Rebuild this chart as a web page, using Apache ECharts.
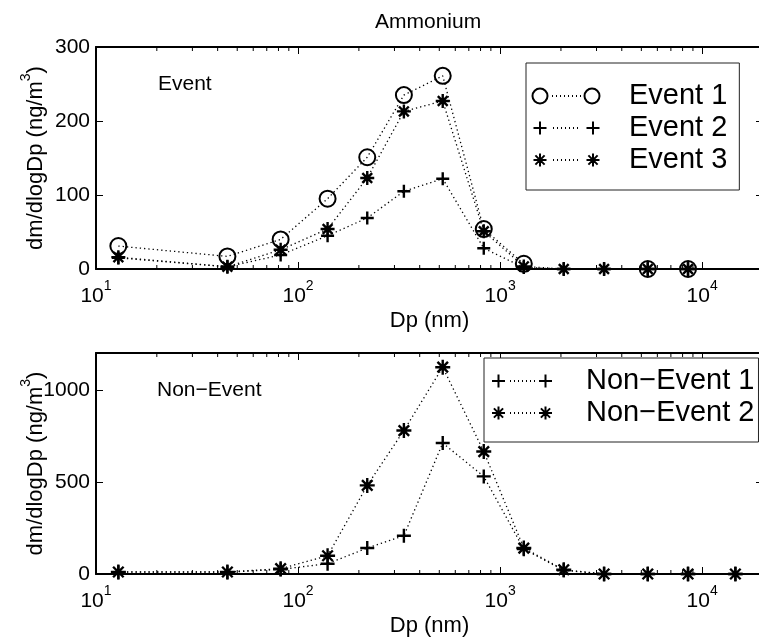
<!DOCTYPE html>
<html lang="en">
<head>
<meta charset="UTF-8">
<title>Ammonium</title>
<script src="https://cdn.jsdelivr.net/npm/echarts@6/dist/echarts.min.js"></script>
<style>
    html, body { margin: 0; padding: 0; background: #fff; }
    #main { width: 759px; height: 637px; }
</style>
</head>
<body>
<div id="main"></div>
<script>
    // stage diameters (nm)
    var dp = [12.9, 44.7, 82, 140, 220, 334, 520, 830, 1310, 2065, 3270, 5380, 8510, 14600];

    // Event panel (ng/m3), missing circles left as null
    var event1 = [31, 17, 40, 95, 151, 235, 261, 54, 7, null, null, 0, 0];
    var event2 = [15, 3, 19, 45, 69, 105, 122, 28, 2, 0, 0, 0, 0];
    var event3 = [16, 3, 26, 54, 123, 213, 227, 51, 3.5, 0, 0, 0, 0];

    // Non-Event panel
    var nonEvent1 = [10, 10, 25, 56, 141, 208, 711, 530, 135, 20, 0, 0, 0, 0];
    var nonEvent2 = [11, 11, 29, 99, 481, 779, 1123, 665, 141, 23, 0, 0, 0, 0];

    // axes
    var xRange = [10, 20000];
    var xMinorTicks = [20, 30, 40, 50, 60, 70, 80, 90,
        200, 300, 400, 500, 600, 700, 800, 900,
        2000, 3000, 4000, 5000, 6000, 7000, 8000, 9000];
    var topYTicks = [0, 100, 200, 300];
    var bottomYTicks = [0, 500, 1000];
    var bottomYMax = 1200;

    var font = 'Liberation Sans, Arial, Helvetica, sans-serif';

    var plusPath = 'path://M0,-1L0,1M-1,0L1,0';
    var starPath = 'path://M0,-1L0,1M-1,0L1,0M-0.7,-0.7L0.7,0.7M-0.7,0.7L0.7,-0.7';

    // legend icons: marker ..... marker
    var iconCircleTop = 'path://M0,0M0.5,9A7.5,7.5,0,1,1,15.5,9A7.5,7.5,0,1,1,0.5,9Z' +
        'M52.5,9A7.5,7.5,0,1,1,67.5,9A7.5,7.5,0,1,1,52.5,9Z' +
        'M20,9L21,9M24,9L25,9M28,9L29,9M32,9L33,9M36,9L37,9M40,9L41,9M44,9L45,9M48,9L49,9M92,18';
    var iconPlusTop = 'path://M0,0M8,2.5L8,15.5M1.5,9L14.5,9M61,2.5L61,15.5M54.5,9L67.5,9' +
        'M21,9L22,9M25,9L26,9M29,9L30,9M33,9L34,9M37,9L38,9M41,9L42,9M45,9L46,9M92,18';
    var iconStarTop = 'path://M0,0M8,2.5L8,15.5M1.5,9L14.5,9M3.4,4.4L12.6,13.6M3.4,13.6L12.6,4.4' +
        'M61,2.5L61,15.5M54.5,9L67.5,9M56.4,4.4L65.6,13.6M56.4,13.6L65.6,4.4' +
        'M21,9L22,9M25,9L26,9M29,9L30,9M33,9L34,9M37,9L38,9M41,9L42,9M45,9L46,9M92,18';
    var iconPlusBot = 'path://M0,0M7.5,2.5L7.5,15.5M1,9L14,9M54.5,2.5L54.5,15.5M48,9L61,9' +
        'M19,9L20,9M23,9L24,9M27,9L28,9M31,9L32,9M35,9L36,9M39,9L40,9M43,9L44,9M90,18';
    var iconStarBot = 'path://M0,0M7.5,2.5L7.5,15.5M1,9L14,9M2.9,4.4L12.1,13.6M2.9,13.6L12.1,4.4' +
        'M54.5,2.5L54.5,15.5M48,9L61,9M49.9,4.4L59.1,13.6M49.9,13.6L59.1,4.4' +
        'M19,9L20,9M23,9L24,9M27,9L28,9M31,9L32,9M35,9L36,9M39,9L40,9M43,9L44,9M90,18';

    function pairs(xs, ys) {
        var out = [];
        for (var i = 0; i < ys.length; i++) {
            out.push([xs[i], ys[i] === null ? '-' : ys[i]]);
        }
        return out;
    }

    function logLabel(v) {
        var e = Math.log(v) / Math.LN10;
        if (Math.abs(e - Math.round(e)) > 1e-6) {
            return '';
        }
        return '10{sup|' + Math.round(e) + '}';
    }

    function xAxisBottom(g) {
        return {
            type: 'log', logBase: 10, gridIndex: g, position: 'bottom',
            min: xRange[0], max: xRange[1],
            axisLine: { show: true, onZero: false, lineStyle: { color: '#000', width: 2 } },
            axisTick: { show: true, inside: true, length: 7, lineStyle: { color: '#000', width: 1 } },
            axisLabel: {
                show: true, margin: 10, color: '#000', fontSize: 21, lineHeight: 34, fontFamily: font,
                formatter: logLabel,
                rich: { sup: { fontSize: 14, lineHeight: 14, verticalAlign: 'top', color: '#000', fontFamily: font } }
            },
            splitLine: { show: false },
            name: 'Dp (nm)', nameLocation: 'middle', nameGap: 41, nameMoveOverlap: false,
            nameTextStyle: { color: '#000', fontSize: 22, fontFamily: font }
        };
    }

    function xAxisTop(g) {
        return {
            type: 'log', logBase: 10, gridIndex: g, position: 'top',
            min: xRange[0], max: xRange[1],
            axisLine: { show: true, onZero: false, lineStyle: { color: '#000', width: 2 } },
            axisTick: { show: true, inside: true, length: 7, lineStyle: { color: '#000', width: 1 } },
            axisLabel: { show: false },
            splitLine: { show: false }
        };
    }

    function yAxisLeft(g, ticks, max) {
        return {
            type: 'value', gridIndex: g, position: 'left',
            min: ticks[0], max: max, interval: ticks[1] - ticks[0],
            axisLine: { show: true, onZero: false, lineStyle: { color: '#000', width: 2 } },
            axisTick: { show: true, inside: true, length: 7, lineStyle: { color: '#000', width: 1 } },
            axisLabel: {
                show: true, margin: 6, color: '#000', fontSize: 21, fontFamily: font,
                formatter: function (v) { return ticks.indexOf(v) >= 0 ? String(v) : ''; }
            },
            splitLine: { show: false },
            name: 'dm/dlogDp (ng/m{sup|3})', nameLocation: 'middle', nameGap: 43, nameMoveOverlap: false,
            nameTextStyle: {
                color: '#000', fontSize: 22, lineHeight: 34, fontFamily: font,
                rich: { sup: { fontSize: 14, lineHeight: 14, verticalAlign: 'top', color: '#000', fontFamily: font } }
            }
        };
    }

    function yAxisRight(g, ticks, max) {
        return {
            type: 'value', gridIndex: g, position: 'right',
            min: ticks[0], max: max, interval: ticks[1] - ticks[0],
            axisLine: { show: true, onZero: false, lineStyle: { color: '#000', width: 2 } },
            axisTick: { show: true, inside: true, length: 7, lineStyle: { color: '#000', width: 1 } },
            axisLabel: { show: false },
            splitLine: { show: false }
        };
    }

    function lineSeries(name, ys, symbol, size, axisIndex) {
        var isCircle = symbol === 'circle';
        return {
            name: name, type: 'line',
            xAxisIndex: axisIndex, yAxisIndex: axisIndex,
            data: pairs(dp, ys),
            symbol: symbol, symbolSize: size, showSymbol: true, clip: false,
            lineStyle: { color: '#000', width: 1.3, type: [1.3, 3] },
            itemStyle: { color: isCircle ? 'transparent' : '#000', borderColor: '#000', borderWidth: isCircle ? 2 : 2.4 },
            emphasis: { disabled: true }
        };
    }

    // small log ticks along the bottom and top frame
    function minorTickSeries(axisIndex, yTop) {
        return {
            type: 'custom', xAxisIndex: axisIndex, yAxisIndex: axisIndex, silent: true, clip: false,
            data: xMinorTicks.map(function (v) { return [v, 0]; }),
            renderItem: function (params, api) {
                var b = api.coord([api.value(0), 0]);
                var t = api.coord([api.value(0), yTop]);
                var st = { stroke: '#000', lineWidth: 1 };
                return {
                    type: 'group',
                    children: [
                        { type: 'line', shape: { x1: b[0], y1: b[1], x2: b[0], y2: b[1] - 4 }, style: st },
                        { type: 'line', shape: { x1: t[0], y1: t[1], x2: t[0], y2: t[1] + 4 }, style: st }
                    ]
                };
            }
        };
    }

    var legendBase = {
        orient: 'vertical', selectedMode: false,
        itemGap: 0, itemHeight: 18,
        borderColor: '#222', borderWidth: 1, backgroundColor: '#fff',
        itemStyle: { color: 'transparent', borderColor: '#000', borderWidth: 2 },
        textStyle: { color: '#000', fontSize: 29, lineHeight: 32, fontFamily: font }
    };

    var option = {
        animation: false,
        backgroundColor: '#fff',
        title: [
            { text: 'Ammonium', left: 375, top: 12, padding: 0,
              textStyle: { color: '#000', fontSize: 21, fontWeight: 'normal', fontFamily: font } },
            { text: 'Event', left: 158, top: 74, padding: 0,
              textStyle: { color: '#000', fontSize: 21, fontWeight: 'normal', fontFamily: font } },
            { text: 'Non\u2212Event', left: 157, top: 380, padding: 0,
              textStyle: { color: '#000', fontSize: 21, fontWeight: 'normal', fontFamily: font } }
        ],
        legend: [
            Object.assign({}, legendBase, {
                left: 526, top: 63, padding: [17, 12, 14, 5], itemWidth: 92,
                data: [
                    { name: 'Event 1', icon: iconCircleTop },
                    { name: 'Event 2', icon: iconPlusTop },
                    { name: 'Event 3', icon: iconStarTop }
                ]
            }),
            Object.assign({}, legendBase, {
                left: 484, top: 358, padding: [7, 4, 13, 6], itemWidth: 90,
                data: [
                    { name: 'Non\u2212Event 1', icon: iconPlusBot },
                    { name: 'Non\u2212Event 2', icon: iconStarBot }
                ]
            })
        ],
        grid: [
            { left: 96, top: 47, width: 667, height: 222, outerBoundsMode: 'none', containLabel: false },
            { left: 96, top: 353, width: 667, height: 221, outerBoundsMode: 'none', containLabel: false }
        ],
        xAxis: [xAxisBottom(0), xAxisTop(0), xAxisBottom(1), xAxisTop(1)],
        yAxis: [
            yAxisLeft(0, topYTicks, topYTicks[topYTicks.length - 1]),
            yAxisRight(0, topYTicks, topYTicks[topYTicks.length - 1]),
            yAxisLeft(1, bottomYTicks, bottomYMax),
            yAxisRight(1, bottomYTicks, bottomYMax)
        ],
        series: [
            minorTickSeries(0, topYTicks[topYTicks.length - 1]),
            minorTickSeries(2, bottomYMax),
            lineSeries('Event 1', event1, 'circle', 16, 0),
            lineSeries('Event 2', event2, plusPath, 13, 0),
            lineSeries('Event 3', event3, starPath, 14, 0),
            lineSeries('Non\u2212Event 1', nonEvent1, plusPath, 14, 2),
            lineSeries('Non\u2212Event 2', nonEvent2, starPath, 15, 2)
        ]
    };

    var myChart = echarts.init(document.getElementById('main'), null, { renderer: 'canvas' });
    myChart.setOption(option);
</script>
</body>
</html>
